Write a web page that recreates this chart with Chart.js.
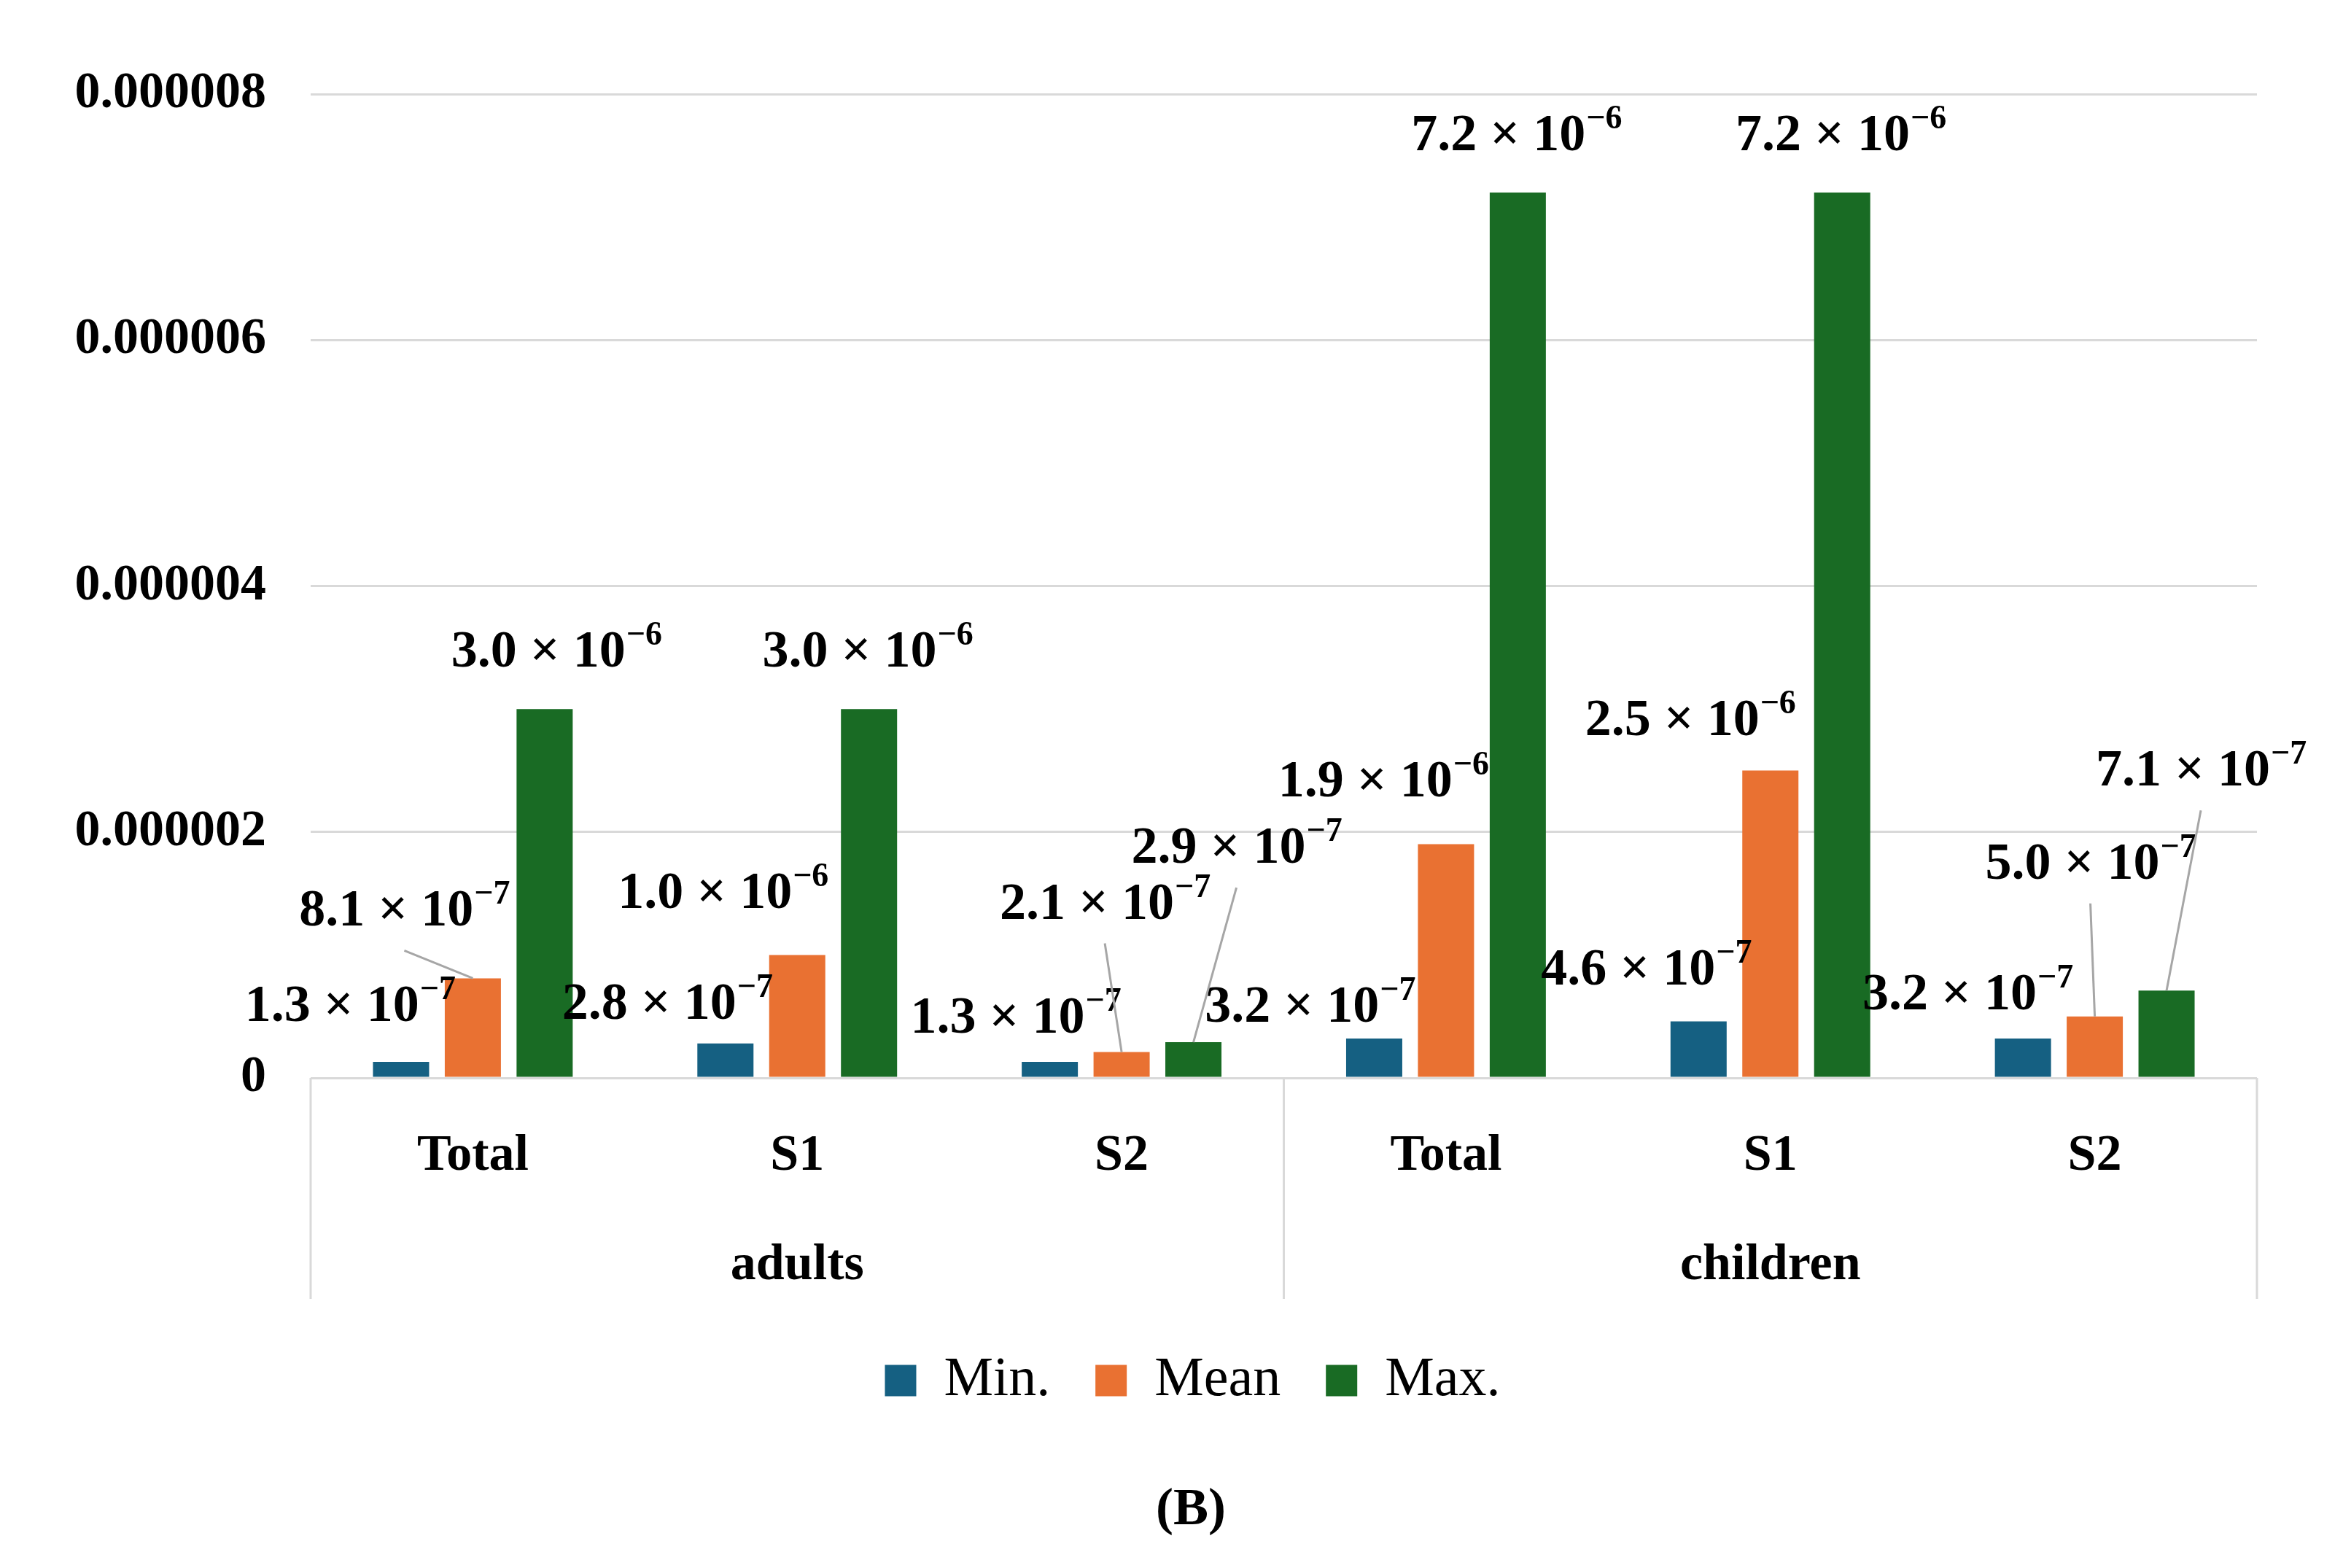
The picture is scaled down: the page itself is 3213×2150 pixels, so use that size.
<!DOCTYPE html>
<html>
<head>
<meta charset="utf-8">
<script src="https://cdn.jsdelivr.net/npm/chart.js@4.4.1/dist/chart.umd.min.js"></script>
<style>
  html, body { margin: 0; padding: 0; background: #fff; }
</style>
</head>
<body>
<canvas id="myChart" width="3213" height="2150"></canvas>
<script>
// categories, two-level axis
const categories = ['Total', 'S1', 'S2', 'Total', 'S1', 'S2'];
const groups = ['adults', 'children'];

// series values
const minValues = [1.3e-7, 2.8e-7, 1.3e-7, 3.2e-7, 4.6e-7, 3.2e-7];
const meanValues = [8.1e-7, 1.0e-6, 2.1e-7, 1.9e-6, 2.5e-6, 5.0e-7];
const maxValues = [3.0e-6, 3.0e-6, 2.9e-7, 7.2e-6, 7.2e-6, 7.1e-7];

// y tick labels
const yTickLabels = ['0', '0.000002', '0.000004', '0.000006', '0.000008'];

// data label placement (offset of label centre from bar top, px) and leader lines
const labelOffsets = [
  [[-70, -80], [-80, -58], [-47, -64], [-88, -47], [-72, -74], [-76, -64]],
  [[-94, -96], [-102, -88], [-23, -207], [-86, -90], [-110, -72], [-6, -213]],
  [[16, -82], [-2, -82], [59, -270], [-2, -82], [-2, -82], [47, -305]]
];
const leaders = [
  [false, false, false, false, false, false],
  [true, false, true, false, false, true],
  [false, false, true, false, false, true]
];

const FONT = "'Liberation Serif', 'Times New Roman', serif";
Chart.defaults.font.family = FONT;
Chart.defaults.color = '#000';

function splitSci(v) {
  const e = Math.floor(Math.log10(v));
  const m = (v / Math.pow(10, e)).toFixed(1);
  return [m + ' \u00d7 10', '\u2212' + Math.abs(e)];
}

const dataLabels = {
  id: 'dataLabels',
  afterDatasetsDraw(chart) {
    const ctx = chart.ctx;
    ctx.save();
    chart.data.datasets.forEach((ds, i) => {
      const meta = chart.getDatasetMeta(i);
      meta.data.forEach((bar, j) => {
        const [dx, dy] = labelOffsets[i][j];
        const cx = bar.x + dx, cy = bar.y + dy;
        if (leaders[i][j]) {
          ctx.strokeStyle = '#a6a6a6';
          ctx.lineWidth = 3;
          ctx.beginPath();
          ctx.moveTo(cx, cy + 58);
          ctx.lineTo(bar.x, bar.y);
          ctx.stroke();
        }
        const [main, sup] = splitSci(ds.data[j]);
        ctx.fillStyle = '#000';
        ctx.textBaseline = 'alphabetic';
        ctx.textAlign = 'left';
        ctx.font = 'bold 72px ' + FONT;
        const wm = ctx.measureText(main).width;
        ctx.font = 'bold 46px ' + FONT;
        const ws = ctx.measureText(sup).width;
        const x0 = cx - (wm + ws) / 2;
        const base = cy + 24;
        ctx.font = 'bold 72px ' + FONT;
        ctx.fillText(main, x0, base);
        ctx.font = 'bold 46px ' + FONT;
        ctx.fillText(sup, x0 + wm + 1, base - 30);
      });
    });
    ctx.restore();
  }
};

const groupAxis = {
  id: 'groupAxis',
  afterLayout(chart) {
    // nudge the legend so it sits where the original one does
    const lg = chart.legend;
    lg.left += 88; lg.right += 88;
    lg.top += 12; lg.bottom += 12;
  },
  afterDraw(chart) {
    const ctx = chart.ctx;
    const x = chart.scales.x;
    const per = categories.length / groups.length;
    const cw = (x.right - x.left) / categories.length;
    ctx.save();
    ctx.strokeStyle = '#d9d9d9';
    ctx.lineWidth = 3;
    for (let k = 0; k <= groups.length; k++) {
      const px = x.left + k * per * cw;
      ctx.beginPath();
      ctx.moveTo(px, chart.chartArea.bottom);
      ctx.lineTo(px, x.bottom);
      ctx.stroke();
    }
    ctx.fillStyle = '#000';
    ctx.font = 'bold 70px ' + FONT;
    ctx.textAlign = 'center';
    ctx.textBaseline = 'middle';
    groups.forEach((g, k) => {
      ctx.fillText(g, x.left + (k + 0.5) * per * cw, x.top + 258);
    });
    // panel caption
    ctx.font = 'bold 72px ' + FONT;
    ctx.fillText('(B)', 1633, 2071);
    ctx.restore();
  }
};

const config = {
  type: 'bar',
  data: {
    labels: categories,
    datasets: [
      { label: 'Min.', data: minValues, backgroundColor: '#156082' },
      { label: 'Mean', data: meanValues, backgroundColor: '#e97132' },
      { label: 'Max.', data: maxValues, backgroundColor: '#196b24' }
    ]
  },
  options: {
    responsive: false,
    devicePixelRatio: 1,
    animation: false,
    layout: { padding: { top: 129, right: 118, left: 0, bottom: 221 } },
    datasets: { bar: { categoryPercentage: 0.664, barPercentage: 0.782 } },
    scales: {
      x: {
        grid: { display: false, drawTicks: false },
        border: { display: false },
        ticks: { padding: 66, font: { size: 70, weight: 'bold' } },
        afterFit(scale) { scale.height = 303; }
      },
      y: {
        min: 0,
        max: 8e-6,
        grid: { color: '#d9d9d9', lineWidth: 3, drawTicks: false },
        border: { display: false },
        ticks: {
          stepSize: 2e-6,
          padding: 61,
          font: { size: 70, weight: 'bold' },
          callback: (v, i) => yTickLabels[i]
        },
        afterFit(scale) { scale.width = 426; }
      }
    },
    plugins: {
      legend: {
        position: 'bottom',
        labels: {
          boxWidth: 43,
          boxHeight: 43,
          padding: 62,
          font: { size: 76, weight: 'normal' }
        }
      },
      title: { display: false },
      tooltip: { enabled: false }
    }
  },
  plugins: [dataLabels, groupAxis]
};

const ctx = document.getElementById('myChart').getContext('2d');
const myChart = new Chart(ctx, config);
</script>
</body>
</html>
